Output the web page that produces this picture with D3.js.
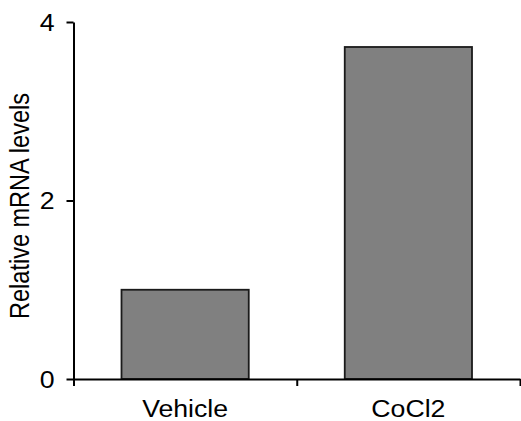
<!DOCTYPE html>
<html>
<head>
<meta charset="utf-8">
<script src="https://cdn.jsdelivr.net/npm/d3@7"></script>
<style>
  html, body { margin: 0; padding: 0; background: #fff; }
  svg { display: block; }
  text { font-family: "Liberation Sans", Arial, sans-serif; fill: #000; }
</style>
</head>
<body>
<svg id="chart" width="521" height="421"></svg>
<script>
// Relative mRNA levels by treatment
const categories = ["Vehicle", "CoCl2"];
const values = [1.0, 3.72];
const yTicks = [0, 2, 4];
const yLabel = "Relative mRNA levels";

const svg = d3.select("#chart");
const plotLeft = 73.5, plotRight = 520, plotTop = 22, plotBottom = 379;
const stretch = 1.16;   // horizontally widened lettering

const x = d3.scaleBand().domain(categories).range([plotLeft, plotRight]).paddingInner(0.43).paddingOuter(0.215);
const xEdge = d3.scaleLinear().domain([0, categories.length]).range([plotLeft, plotRight]);
const y = d3.scaleLinear().domain([0, 4]).range([plotBottom, plotTop]);

// bars
svg.append("g").selectAll("rect")
  .data(categories)
  .join("rect")
  .attr("x", d => x(d))
  .attr("width", x.bandwidth())
  .attr("y", (d, i) => y(values[i]))
  .attr("height", (d, i) => y(0) - y(values[i]))
  .attr("fill", "#808080")
  .attr("stroke", "#1a1a1a")
  .attr("stroke-width", 1.8);

// y axis
const yAxis = svg.append("g")
  .attr("transform", `translate(${plotLeft},0)`)
  .call(d3.axisLeft(y).tickValues(yTicks).tickSize(7).tickSizeOuter(0).tickFormat(d3.format("d")));
yAxis.select(".domain").attr("stroke", "#000").attr("stroke-width", 2);
yAxis.selectAll(".tick line").attr("stroke", "#000").attr("stroke-width", 2);
yAxis.selectAll(".tick text").each(function () {
  const t = d3.select(this);
  t.attr("x", null).attr("dy", null)
   .attr("text-anchor", "end")
   .attr("dominant-baseline", "central")
   .attr("font-size", 23)
   .attr("transform", `translate(-19,0) scale(${stretch},1)`);
});

// x axis: line plus ticks at category boundaries
const xAxis = svg.append("g")
  .attr("transform", `translate(0,${plotBottom})`)
  .call(d3.axisBottom(xEdge).tickValues(d3.range(categories.length + 1)).tickSize(7).tickSizeOuter(0).tickFormat(""));
xAxis.select(".domain").attr("stroke", "#000").attr("stroke-width", 2);
xAxis.selectAll(".tick line").attr("stroke", "#000").attr("stroke-width", 2);

// category labels
svg.append("g").selectAll("text")
  .data(categories)
  .join("text")
  .attr("transform", d => `translate(${x(d) + x.bandwidth() / 2},417) scale(${stretch},1)`)
  .attr("text-anchor", "middle")
  .attr("font-size", 23)
  .text(d => d);

// y axis title
svg.append("text")
  .attr("transform", `translate(29,206) rotate(-90) scale(1,${stretch})`)
  .attr("text-anchor", "middle")
  .attr("font-size", 23.5)
  .text(yLabel);
</script>
</body>
</html>
